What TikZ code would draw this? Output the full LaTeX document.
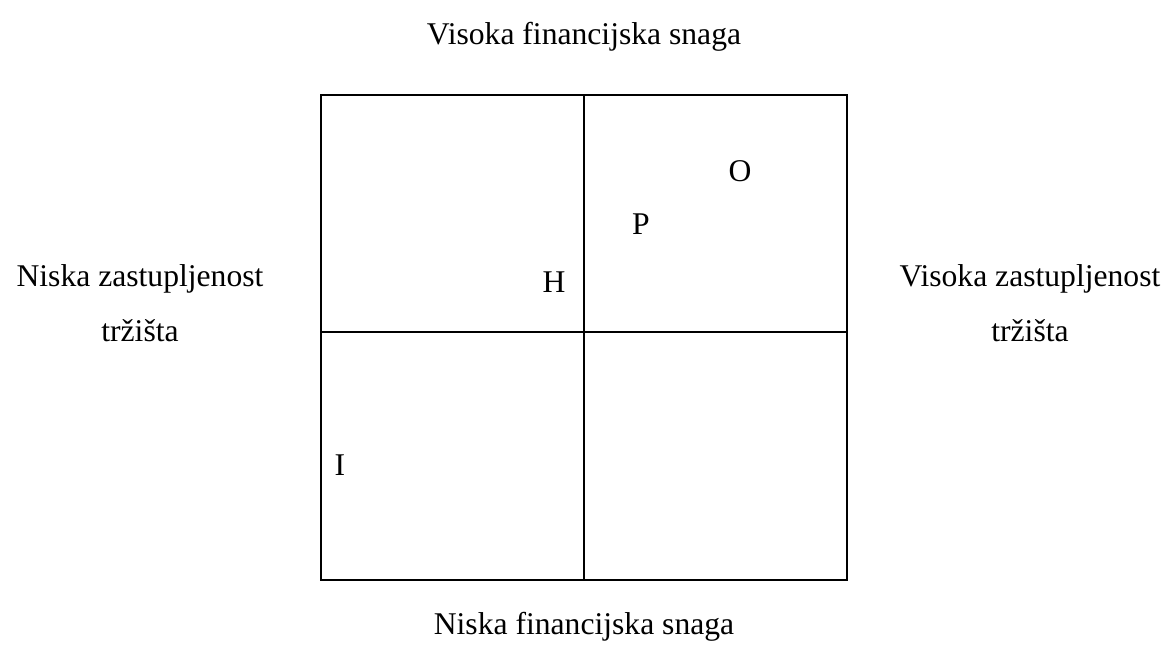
\documentclass[tikz,border=0pt]{standalone}
\usepackage{fontspec}
\setmainfont{Liberation Serif}
\usetikzlibrary{positioning,calc}
\tikzset{
  axislabel/.style={align=center, inner sep=0pt, font=\fontsize{18}{31}\selectfont},
  letter/.style={inner sep=0pt, font=\fontsize{18}{20}\selectfont},
  gridline/.style={line width=1.15pt, draw=black}
}

\begin{document}
\begin{tikzpicture}[x=0.02cm, y=-0.02cm]
  \useasboundingbox (0,0) rectangle (1175,670);
  % matrix frame
  \coordinate (nw) at (321,95);
  \coordinate (se) at (847,580);
  \coordinate (top) at (584,95);
  \coordinate (bot) at (584,580);
  \coordinate (left) at (321,332);
  \coordinate (right) at (847,332);
  \draw[gridline] (nw) rectangle (se);
  \draw[gridline] (top) -- (bot);
  \draw[gridline] (left) -- (right);
  % axis labels
  \node[axislabel] (highfin) at (584,37) {Visoka financijska snaga};
  \node[axislabel] (lowfin) at (584,627) {Niska financijska snaga};
  \node[axislabel] (lowmkt) at (140,303) {Niska zastupljenost\\tržišta};
  \node[axislabel] (highmkt) at (1030,303) {Visoka zastupljenost\\tržišta};
  % positions
  \node[letter] (o) at (740,171) {O};
  \node[letter] (p) at (641,224) {P};
  \node[letter] (h) at (554,282) {H};
  \node[letter] (i) at (340,465) {I};
\end{tikzpicture}
\end{document}
